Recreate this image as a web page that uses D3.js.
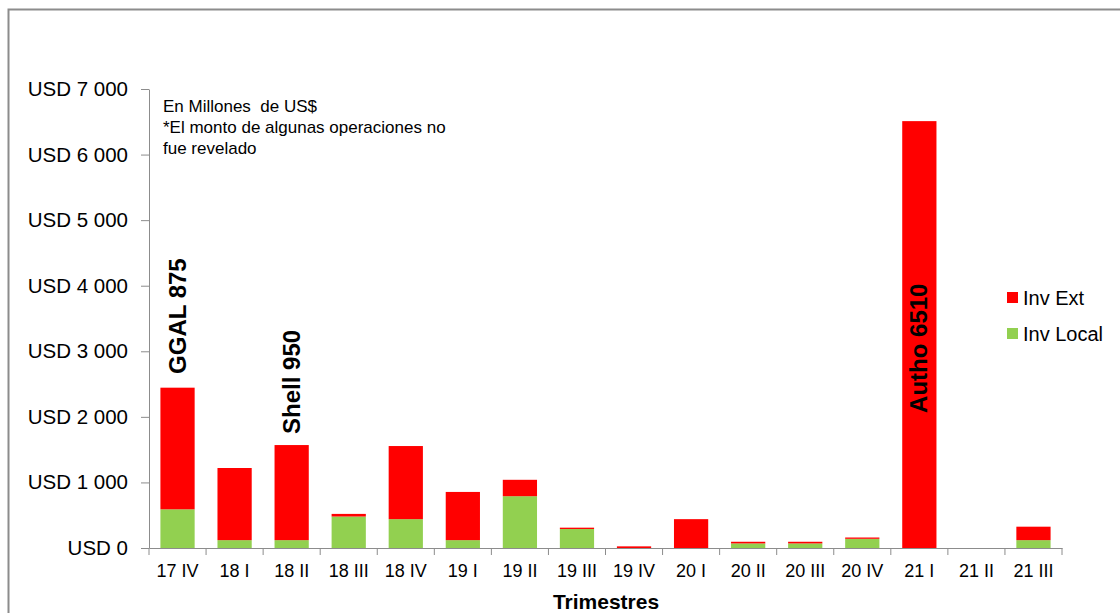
<!DOCTYPE html>
<html>
<head>
<meta charset="utf-8">
<script src="https://cdn.jsdelivr.net/npm/d3@7"></script>
<style>
  body { margin: 0; background: #fff; }
  svg { font-family: "Liberation Sans", Arial, sans-serif; }
</style>
</head>
<body>
<svg id="chart"></svg>
<script>
// Data (millions of US$)
const quarters = ["17 IV", "18 I", "18 II", "18 III", "18 IV", "19 I", "19 II", "19 III",
                  "19 IV", "20 I", "20 II", "20 III", "20 IV", "21 I", "21 II", "21 III"];
const invLocal = [590, 120, 120, 480, 440, 120, 790, 290, 0, 0, 70, 70, 140, 0, 0, 120];
const invExt = [1855, 1100, 1450, 40, 1115, 735, 250, 20, 25, 440, 25, 25, 20, 6510, 0, 205];
const yTicks = [0, 1000, 2000, 3000, 4000, 5000, 6000, 7000];
const seriesNames = ["Inv Ext", "Inv Local"];
const seriesColors = ["#ff0000", "#92d050"];
// rotated notes: category, text, value where the text starts
const noteQuarters = ["17 IV", "18 II", "21 I"];
const noteTexts = ["GGAL 875", "Shell 950", "Autho 6510"];
const noteAnchors = [2655, 1740, 2060];

const totalWidth = 1120;
const totalHeight = 613;
const margin = { top: 89, right: 58, bottom: 65, left: 149 };
const width = totalWidth - margin.left - margin.right;
const height = totalHeight - margin.top - margin.bottom;

const svg = d3.select("#chart")
    .attr("width", totalWidth)
    .attr("height", totalHeight);

// Outer frame (cut by the picture edge on the right and bottom)
svg.append("rect")
    .attr("x", 8.5).attr("y", 9.5)
    .attr("width", 1130).attr("height", 620)
    .attr("fill", "none")
    .attr("stroke", "#8c8c8c")
    .attr("stroke-width", 2);

const g = svg.append("g")
    .attr("transform", `translate(${margin.left},${margin.top})`);

// Scales
const x = d3.scaleBand()
    .domain(quarters)
    .range([0, width])
    .paddingInner(0.4)
    .paddingOuter(0.2);
const y = d3.scaleLinear()
    .domain([0, 7000])
    .range([height, 0]);

// Stack: local at the bottom, ext on top
const rows = quarters.map((q, i) => ({ quarter: q, local: invLocal[i], ext: invExt[i] }));
const stack = d3.stack().keys(["local", "ext"])(rows);
const color = d3.scaleOrdinal().domain(["ext", "local"]).range(seriesColors);

g.selectAll(".layer")
    .data(stack)
    .enter().append("g")
    .attr("class", "layer")
    .attr("fill", d => color(d.key))
    .selectAll("rect")
    .data(d => d)
    .enter().append("rect")
    .attr("x", d => x(d.data.quarter))
    .attr("y", d => y(d[1]))
    .attr("width", x.bandwidth())
    .attr("height", d => y(d[0]) - y(d[1]));

// Y axis
const fmt = v => "USD " + d3.format(",")(v).replace(/,/g, " ");
const yAxis = g.append("g")
    .call(d3.axisLeft(y).tickValues(yTicks).tickFormat(fmt).tickSize(8).tickSizeOuter(0).tickPadding(13));
yAxis.select(".domain").attr("stroke", "#8c8c8c");
yAxis.selectAll(".tick line").attr("stroke", "#8c8c8c");
yAxis.selectAll(".tick text")
    .attr("fill", "#000")
    .style("font-size", "20.5px");

// X axis: labels centred, tick marks on the category boundaries
const xAxis = g.append("g")
    .attr("transform", `translate(0,${height})`)
    .call(d3.axisBottom(x).tickSize(0).tickSizeOuter(0).tickPadding(16));
xAxis.select(".domain").attr("stroke", "#8c8c8c");
xAxis.selectAll(".tick text")
    .attr("fill", "#000")
    .style("font-size", "18px");
const step = x.step();
const boundaries = d3.range(quarters.length + 1).map(i => x(quarters[0]) - x.step() * x.paddingOuter() + i * step);
xAxis.selectAll(".boundary")
    .data(boundaries)
    .enter().append("line")
    .attr("x1", d => d).attr("x2", d => d)
    .attr("y1", 0).attr("y2", 7)
    .attr("stroke", "#8c8c8c");

// Axis title
g.append("text")
    .attr("x", 606 - margin.left)
    .attr("y", height + 61)
    .attr("text-anchor", "middle")
    .style("font-size", "21px")
    .style("font-weight", "bold")
    .text("Trimestres");

// Note in the upper left
const note = g.append("text")
    .attr("x", 163 - margin.left)
    .attr("y", 112 - margin.top)
    .style("font-size", "17px")
    .attr("fill", "#000");
["En Millones  de US$", "*El monto de algunas operaciones no", "fue revelado"].forEach((t, i) => {
    note.append("tspan")
        .attr("x", 163 - margin.left)
        .attr("dy", i === 0 ? 0 : 21)
        .style("white-space", "pre")
        .text(t);
});

// Rotated bar notes
g.selectAll(".barnote")
    .data(noteTexts)
    .enter().append("text")
    .attr("class", "barnote")
    .attr("transform", (d, i) => `translate(${x(noteQuarters[i]) + x.bandwidth() / 2 + 8},${y(noteAnchors[i])}) rotate(-90)`)
    .style("font-size", "24px")
    .style("font-weight", "bold")
    .attr("fill", "#000")
    .text(d => d);

// Legend
const legend = svg.selectAll(".legend")
    .data(seriesNames)
    .enter().append("g")
    .attr("class", "legend")
    .attr("transform", (d, i) => `translate(1007,${292 + i * 36})`);
legend.append("rect")
    .attr("width", 11).attr("height", 11)
    .attr("fill", (d, i) => seriesColors[i]);
legend.append("text")
    .attr("x", 16)
    .attr("y", 6)
    .attr("dy", "0.35em")
    .style("font-size", "20px")
    .attr("fill", "#000")
    .text(d => d);
</script>
</body>
</html>
